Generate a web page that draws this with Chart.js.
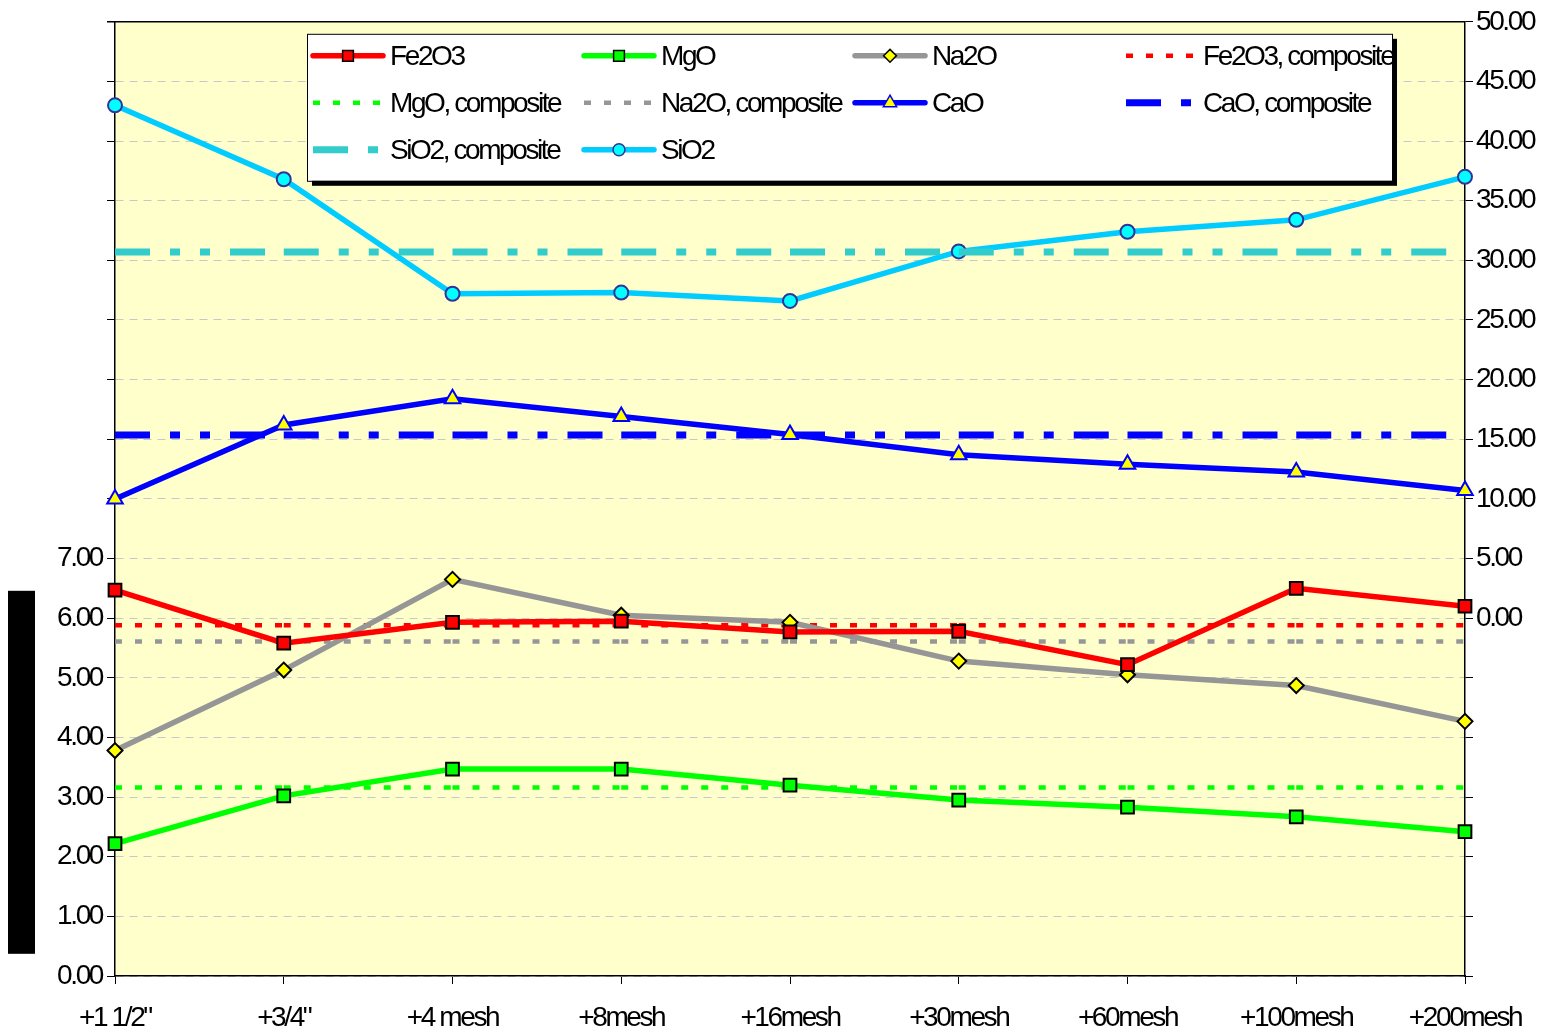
<!DOCTYPE html>
<html>
<head>
<meta charset="utf-8">
<script src="https://cdn.jsdelivr.net/npm/chart.js@4"></script>
<style>
  body { margin: 0; background: #fff; }
  canvas { display: block; }
</style>
</head>
<body>
<canvas id="chart1" width="1543" height="1034"></canvas>
<script>
// size fractions
var categories = ['+1 1/2"', '+3/4"', '+4 mesh', '+8mesh', '+16mesh', '+30mesh', '+60mesh', '+100mesh', '+200mesh'];

// left axis (%)
var fe2o3 = [6.47, 5.58, 5.93, 5.95, 5.77, 5.78, 5.22, 6.50, 6.20];
var mgo = [2.22, 3.02, 3.47, 3.47, 3.20, 2.95, 2.83, 2.67, 2.42];
var na2o = [3.78, 5.13, 6.65, 6.05, 5.93, 5.28, 5.05, 4.87, 4.27];
var fe2o3Comp = [5.88, 5.88, 5.88, 5.88, 5.88, 5.88, 5.88, 5.88, 5.88];
var mgoComp = [3.16, 3.16, 3.16, 3.16, 3.16, 3.16, 3.16, 3.16, 3.16];
var na2oComp = [5.61, 5.61, 5.61, 5.61, 5.61, 5.61, 5.61, 5.61, 5.61];

// right axis (%)
var cao = [10.0, 16.2, 18.4, 16.9, 15.4, 13.7, 12.9, 12.25, 10.7];
var caoComp = [15.35, 15.35, 15.35, 15.35, 15.35, 15.35, 15.35, 15.35, 15.35];
var sio2Comp = [30.7, 30.7, 30.7, 30.7, 30.7, 30.7, 30.7, 30.7, 30.7];
var sio2 = [43.0, 36.8, 27.2, 27.3, 26.6, 30.75, 32.4, 33.4, 37.0];

var leftMax = 7;   // left labels shown up to this
var rightMin = 0;  // right labels shown from this

var SPACING = '-2.4px';
Chart.defaults.font.family = "'Liberation Sans', Arial, sans-serif";
Chart.defaults.font.size = 28;
Chart.defaults.color = '#000';

// restart dash pattern at every point, like Excel does
var restartDash = {
  borderDashOffset: function (c) { return c.p0DataIndex % 2 ? 0.01 : 0; }
};

function mainLine(label, data, axis, color, style, radius, fill, edge) {
  return {
    label: label, data: data, yAxisID: axis,
    borderColor: color, borderWidth: 5.5, tension: 0,
    pointStyle: style, pointRadius: radius, pointHoverRadius: radius,
    pointBackgroundColor: fill, pointBorderColor: edge, pointBorderWidth: 2
  };
}
function compLine(label, data, axis, color, width, dash) {
  return {
    label: label, data: data, yAxisID: axis,
    borderColor: color, borderWidth: width, borderDash: dash,
    pointRadius: 0, tension: 0, segment: restartDash
  };
}

var tightText = {
  id: 'tightText',
  beforeUpdate: function (c) { c.ctx.letterSpacing = SPACING; },
  beforeLayout: function (c) { c.ctx.letterSpacing = SPACING; },
  beforeDraw: function (c) {
    var ctx = c.ctx, a = c.chartArea;
    ctx.letterSpacing = SPACING;
    ctx.save();
    ctx.fillStyle = '#FFFFCC';
    ctx.fillRect(a.left, a.top, a.right - a.left, a.bottom - a.top);
    // the blacked-out axis title
    ctx.fillStyle = '#000';
    ctx.fillRect(a.left - 107, a.top + 569, 27, 363);
    ctx.restore();
  }
};

var boxLegend = {
  id: 'boxLegend',
  afterDraw: function (chart) {
    var ctx = chart.ctx, a = chart.chartArea;
    var x0 = a.left + 192, y0 = a.top + 12, w = 1085, h = 147;
    ctx.save();
    // top frame line of plot
    ctx.strokeStyle = '#000';
    ctx.lineWidth = 1.5;
    ctx.beginPath();
    ctx.moveTo(a.left - 8, a.top);
    ctx.lineTo(a.right, a.top);
    ctx.stroke();

    ctx.fillStyle = '#000';
    ctx.fillRect(x0 + 5, y0 + 5, w, h);
    ctx.fillStyle = '#fff';
    ctx.fillRect(x0, y0, w, h);
    ctx.lineWidth = 1;
    ctx.strokeRect(x0 + 0.5, y0 + 0.5, w, h);

    ctx.letterSpacing = SPACING;
    ctx.font = "28px 'Liberation Sans', Arial, sans-serif";
    ctx.textBaseline = 'middle';
    ctx.textAlign = 'left';
    chart.data.datasets.forEach(function (ds, i) {
      var col = i % 4, row = Math.floor(i / 4);
      var sx = x0 + 6 + col * 271, sy = y0 + 22 + row * 47;
      ctx.save();
      ctx.strokeStyle = ds.borderColor;
      ctx.lineWidth = ds.borderWidth;
      ctx.setLineDash(ds.borderDash || []);
      ctx.lineCap = ds.borderDash ? 'butt' : 'round';
      ctx.beginPath();
      ctx.moveTo(sx, sy);
      ctx.lineTo(sx + 70, sy);
      ctx.stroke();
      ctx.restore();
      if (ds.pointRadius) {
        ctx.save();
        ctx.fillStyle = ds.pointBackgroundColor;
        ctx.strokeStyle = ds.pointBorderColor;
        ctx.lineWidth = 1.5;
        Chart.helpers.drawPoint(ctx, {
          pointStyle: ds.pointStyle, rotation: 0,
          radius: ds.pointRadius * 0.85, borderWidth: 1.5
        }, sx + 35, sy);
        ctx.restore();
      }
      ctx.fillStyle = '#000';
      ctx.fillText(ds.label, sx + 77, sy + 1);
    });
    ctx.restore();
  }
};

var ctx1 = document.getElementById('chart1').getContext('2d');
var chart1 = new Chart(ctx1, {
  type: 'line',
  data: {
    labels: categories,
    datasets: [
      mainLine('Fe2O3', fe2o3, 'y', '#FF0000', 'rect', 9, '#FF0000', '#000000'),
      mainLine('MgO', mgo, 'y', '#00FF00', 'rect', 9, '#00FF00', '#000000'),
      mainLine('Na2O', na2o, 'y', '#969696', 'rectRot', 7.5, '#FFFF00', '#000000'),
      compLine('Fe2O3, composite', fe2o3Comp, 'y', '#FF0000', 4.5, [7, 13]),
      compLine('MgO, composite', mgoComp, 'y', '#00FF00', 4.5, [7, 13]),
      compLine('Na2O, composite', na2oComp, 'y', '#969696', 4.5, [7, 13]),
      mainLine('CaO', cao, 'y2', '#0000FF', 'triangle', 9, '#FFFF00', '#0000FF'),
      compLine('CaO, composite', caoComp, 'y2', '#0000FF', 7, [35, 20, 10, 20, 10, 20]),
      compLine('SiO2, composite', sio2Comp, 'y2', '#33CCCC', 7, [35, 20, 10, 20, 10, 20]),
      mainLine('SiO2', sio2, 'y2', '#00CCFF', 'circle', 7, '#00FFFF', '#333399')
    ]
  },
  options: {
    responsive: false,
    animation: false,
    layout: { padding: { top: 18, left: 0, right: 0, bottom: 0 } },
    plugins: {
      legend: { display: false },
      tooltip: { enabled: false }
    },
    scales: {
      x: {
        offset: false,
        grid: { drawOnChartArea: false, tickColor: '#000', tickLength: 8 },
        border: { color: '#000', width: 1.5 },
        ticks: { padding: 17, autoSkip: false, maxRotation: 0 },
        afterFit: function (s) { s.height = 58; }
      },
      y: {
        position: 'left',
        min: 0, max: 16,
        grid: { color: '#C8C8C8', lineWidth: 1, tickColor: '#000', tickLength: 8, tickBorderDash: [] },
        border: { color: '#000', width: 1.5, dash: [8, 6] },
        ticks: {
          stepSize: 1, autoSkip: false, padding: 5,
          callback: function (v) { return v <= leftMax ? v.toFixed(2) : ''; }
        },
        afterFit: function (s) { s.width = 115; }
      },
      y2: {
        position: 'right',
        min: -30, max: 50,
        grid: { drawOnChartArea: false, tickColor: '#000', tickLength: 8 },
        border: { color: '#000', width: 1.5 },
        ticks: {
          stepSize: 5, autoSkip: false, padding: 3,
          callback: function (v) { return v >= rightMin ? v.toFixed(2) : ''; }
        },
        afterFit: function (s) { s.width = 78; }
      }
    }
  },
  plugins: [tightText, boxLegend]
});
</script>
</body>
</html>
